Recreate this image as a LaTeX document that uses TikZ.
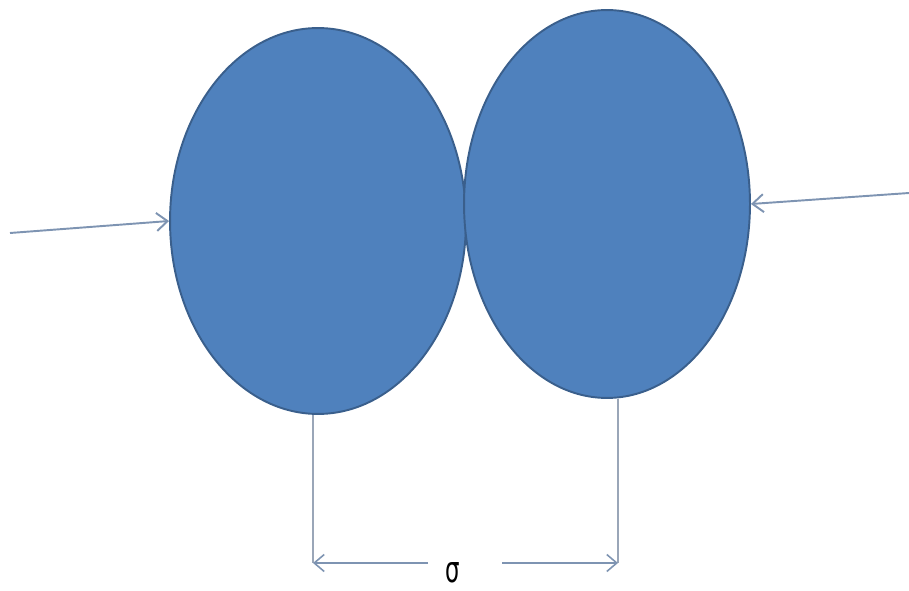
\documentclass[tikz,border=0pt]{standalone}
\usepackage{fontspec}
\newfontfamily\symfont{DejaVu Sans}
\usetikzlibrary{positioning,arrows.meta,shapes.geometric,calc}
\definecolor{ballblue}{HTML}{4F81BD}
\definecolor{balledge}{HTML}{3A5F8C}
\definecolor{pushcol}{HTML}{7E94B2}
\definecolor{dimcol}{HTML}{9AA6B8}
\tikzset{
  ball/.style={ellipse,fill=ballblue,draw=balledge,line width=1.1pt,inner sep=0pt},
  push/.style={-{Straight Barb[length=2.2mm,width=3.6mm]},draw=pushcol,line width=1.1pt},
  dimln/.style={draw=dimcol,line width=0.6pt},
  dimarr/.style={-{Straight Barb[length=2mm,width=3.4mm]},draw=pushcol,line width=0.9pt},
  lbl/.style={font=\symfont\fontsize{13}{13}\selectfont,inner sep=0pt},
}
\begin{document}
\begin{tikzpicture}[x=0.02cm,y=-0.02cm]
  \useasboundingbox (0,0) rectangle (909,591);
  % the two touching balls
  \node[ball,minimum width=5.92cm,minimum height=7.72cm] (ballL) at (318,221) {};
  \node[ball,minimum width=5.72cm,minimum height=7.76cm] (ballR) at (607,204) {};
  % pushing forces
  \coordinate (inL) at (10,233);
  \coordinate (inR) at (909,193);
  \draw[push] (inL) -- (ballL.west);
  \draw[push] (inR) -- (ballR.east);
  % distance between centres
  \coordinate (dimL) at (313,563);
  \coordinate (dimR) at (618,563);
  \draw[dimln] (ballL.south -| dimL) -- (dimL);
  \draw[dimln] (ballR.south -| dimR) -- (dimR);
  \node[lbl] (sig) at (453,573) {\scalebox{1}[1.6]{σ}};
  \coordinate (gapL) at (428,563);
  \coordinate (gapR) at (502,563);
  \draw[dimarr] (gapL) -- (dimL);
  \draw[dimarr] (gapR) -- (dimR);
\end{tikzpicture}
\end{document}
